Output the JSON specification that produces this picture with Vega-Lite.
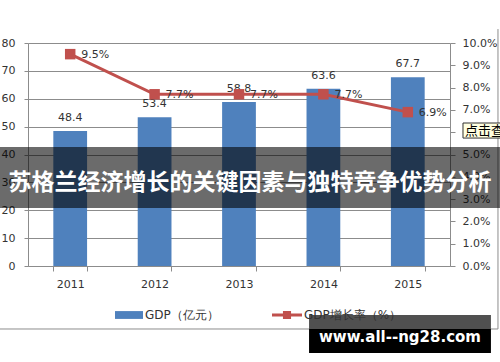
{
  "$schema": "https://vega.github.io/schema/vega-lite/v6.json",
  "width": 422,
  "height": 223,
  "autosize": {"type": "none"},
  "padding": {"left": 28, "top": 43, "right": 50, "bottom": 96},
  "background": "white",
  "config": {
    "font": "DejaVu Sans",
    "view": {"stroke": null},
    "axis": {"labelFont": "DejaVu Sans", "labelFontSize": 11, "labelColor": "#333333", "domainColor": "#8c8c8c", "tickColor": "#8c8c8c", "gridColor": "#8c8c8c", "gridOpacity": 1},
    "legend": {"labelFont": "DejaVu Sans", "labelFontSize": 12, "labelColor": "#333333", "orient": "none", "title": null, "labelOffset": 2, "symbolStrokeWidth": 0}
  },
  "data": {"values": [
    {"year": "2011", "gdp": 48.4, "rate": 0.095},
    {"year": "2012", "gdp": 53.4, "rate": 0.077},
    {"year": "2013", "gdp": 58.8, "rate": 0.077},
    {"year": "2014", "gdp": 63.6, "rate": 0.077},
    {"year": "2015", "gdp": 67.7, "rate": 0.069}
  ]},
  "resolve": {"scale": {"x": "independent", "y": "independent", "color": "independent"}},
  "layer": [
    {
      "mark": {"type": "bar"},
      "encoding": {
        "x": {"field": "year", "type": "ordinal", "scale": {"paddingInner": 0.6, "paddingOuter": 0.3}, "axis": {"title": null, "labelAngle": 0, "tickBand": "extent", "tickSize": 5, "labelPadding": 7, "grid": false}},
        "y": {"field": "gdp", "type": "quantitative", "scale": {"domain": [0, 80], "nice": false}, "axis": {"title": null, "orient": "left", "values": [0, 10, 20, 30, 40, 50, 60, 70, 80], "grid": true, "tickSize": 4, "labelPadding": 9}},
        "color": {"datum": "GDP（亿元）", "scale": {"range": ["#4F81BD"]}, "legend": {"symbolType": "M-1,-0.28H1V0.28H-1Z", "symbolSize": 784, "orient": "none", "legendX": 87, "legendY": 258}}
      }
    },
    {
      "mark": {"type": "text", "dy": -13, "baseline": "middle", "fontSize": 11, "color": "#333333"},
      "encoding": {
        "x": {"field": "year", "type": "ordinal", "scale": {"paddingInner": 0.6, "paddingOuter": 0.3}, "axis": null},
        "y": {"field": "gdp", "type": "quantitative", "scale": {"domain": [0, 80], "nice": false}, "axis": null},
        "text": {"field": "gdp", "type": "quantitative", "format": ".1f"}
      }
    },
    {
      "mark": {"type": "line", "color": "#C0504D", "strokeWidth": 3},
      "encoding": {
        "x": {"field": "year", "type": "ordinal", "scale": {"paddingInner": 0.6, "paddingOuter": 0.3}, "axis": null},
        "y": {"field": "rate", "type": "quantitative", "scale": {"domain": [0, 0.1], "nice": false}, "axis": {"title": null, "orient": "right", "format": ".1%", "values": [0, 0.01, 0.02, 0.03, 0.04, 0.05, 0.06, 0.07, 0.08, 0.09, 0.1], "grid": false, "tickSize": 5, "labelPadding": 7}}
      }
    },
    {
      "mark": {"type": "point", "shape": "square", "filled": true, "size": 110, "opacity": 1},
      "encoding": {
        "x": {"field": "year", "type": "ordinal", "scale": {"paddingInner": 0.6, "paddingOuter": 0.3}, "axis": null},
        "y": {"field": "rate", "type": "quantitative", "scale": {"domain": [0, 0.1], "nice": false}, "axis": null},
        "color": {"datum": "GDP增长率（%）", "scale": {"range": ["#C0504D"]}, "legend": {"symbolType": "M-1,-0.1H1V0.1H-1Z M-0.27,-0.27H0.27V0.27H-0.27Z", "symbolSize": 900, "orient": "none", "legendX": 244, "legendY": 257}}
      }
    },
    {
      "mark": {"type": "text", "align": "left", "baseline": "middle", "dx": 11, "dy": 1, "fontSize": 11, "color": "#333333"},
      "encoding": {
        "x": {"field": "year", "type": "ordinal", "scale": {"paddingInner": 0.6, "paddingOuter": 0.3}, "axis": null},
        "y": {"field": "rate", "type": "quantitative", "scale": {"domain": [0, 0.1], "nice": false}, "axis": null},
        "text": {"field": "rate", "type": "quantitative", "format": ".1%"}
      }
    },
    {
      "data": {"values": [{}]},
      "mark": {"type": "rule", "color": "#8c8c8c", "strokeWidth": 1},
      "encoding": {
        "x": {"datum": -0.0664, "type": "quantitative", "scale": {"domain": [0, 1], "nice": false, "zero": false}, "axis": null},
        "x2": {"datum": 1.1137},
        "y": {"datum": -22.6, "type": "quantitative", "scale": {"domain": [0, 80], "nice": false}, "axis": null}
      }
    },
    {
      "data": {"values": [{}]},
      "mark": {"type": "rule", "color": "#8c8c8c", "strokeWidth": 1},
      "encoding": {
        "x": {"datum": 1.1137, "type": "quantitative", "scale": {"domain": [0, 1], "nice": false, "zero": false}, "axis": null},
        "y": {"datum": 85.0, "type": "quantitative", "scale": {"domain": [0, 80], "nice": false}, "axis": null},
        "y2": {"datum": -22.6}
      }
    },
    {
      "data": {"values": [{}]},
      "mark": {"type": "rect", "color": "#FFFFE1", "stroke": "#333333", "strokeWidth": 1},
      "encoding": {
        "x": {"datum": 1.0308, "type": "quantitative", "scale": {"domain": [0, 1], "nice": false, "zero": false}, "axis": null},
        "x2": {"datum": 1.14},
        "y": {"datum": 51.3, "type": "quantitative", "scale": {"domain": [0, 80], "nice": false}, "axis": null},
        "y2": {"datum": 45.9}
      }
    },
    {
      "data": {"values": [{}]},
      "mark": {"type": "text", "text": "点击查", "align": "left", "baseline": "middle", "font": "Noto Sans CJK SC", "fontSize": 13, "color": "#000000"},
      "encoding": {
        "x": {"datum": 1.0355, "type": "quantitative", "scale": {"domain": [0, 1], "nice": false, "zero": false}, "axis": null},
        "y": {"datum": 48.6, "type": "quantitative", "scale": {"domain": [0, 80], "nice": false}, "axis": null}
      }
    },
    {
      "data": {"values": [{}]},
      "mark": {"type": "rect", "color": "#000000", "opacity": 0.58},
      "encoding": {
        "x": {"datum": -0.0664, "type": "quantitative", "scale": {"domain": [0, 1], "nice": false, "zero": false}, "axis": null},
        "x2": {"datum": 1.1185},
        "y": {"datum": 42.69, "type": "quantitative", "scale": {"domain": [0, 80], "nice": false}, "axis": null},
        "y2": {"datum": 20.81}
      }
    },
    {
      "data": {"values": [{}]},
      "mark": {"type": "text", "text": "苏格兰经济增长的关键因素与独特竞争优势分析", "align": "center", "baseline": "middle", "font": "Noto Sans CJK SC", "fontWeight": "bold", "fontSize": 23, "color": "#ffffff"},
      "encoding": {
        "x": {"datum": 0.526, "type": "quantitative", "scale": {"domain": [0, 1], "nice": false, "zero": false}, "axis": null},
        "y": {"datum": 29.8, "type": "quantitative", "scale": {"domain": [0, 80], "nice": false}, "axis": null}
      }
    },
    {
      "data": {"values": [{}]},
      "mark": {"type": "rect", "color": "#505050"},
      "encoding": {
        "x": {"datum": 0.666, "type": "quantitative", "scale": {"domain": [0, 1], "nice": false, "zero": false}, "axis": null},
        "x2": {"datum": 1.097},
        "y": {"datum": -17.6, "type": "quantitative", "scale": {"domain": [0, 80], "nice": false}, "axis": null},
        "y2": {"datum": -22.6}
      }
    },
    {
      "data": {"values": [{}]},
      "mark": {"type": "rect", "color": "#000000"},
      "encoding": {
        "x": {"datum": 0.666, "type": "quantitative", "scale": {"domain": [0, 1], "nice": false, "zero": false}, "axis": null},
        "x2": {"datum": 1.097},
        "y": {"datum": -22.6, "type": "quantitative", "scale": {"domain": [0, 80], "nice": false}, "axis": null},
        "y2": {"datum": -31.2}
      }
    },
    {
      "data": {"values": [{}]},
      "mark": {"type": "text", "text": "www.all--ng28.com", "align": "center", "baseline": "middle", "font": "DejaVu Sans", "fontWeight": "bold", "fontSize": 15, "color": "#ffffff"},
      "encoding": {
        "x": {"datum": 0.8815, "type": "quantitative", "scale": {"domain": [0, 1], "nice": false, "zero": false}, "axis": null},
        "y": {"datum": -25.5, "type": "quantitative", "scale": {"domain": [0, 80], "nice": false}, "axis": null}
      }
    }
  ]
}
